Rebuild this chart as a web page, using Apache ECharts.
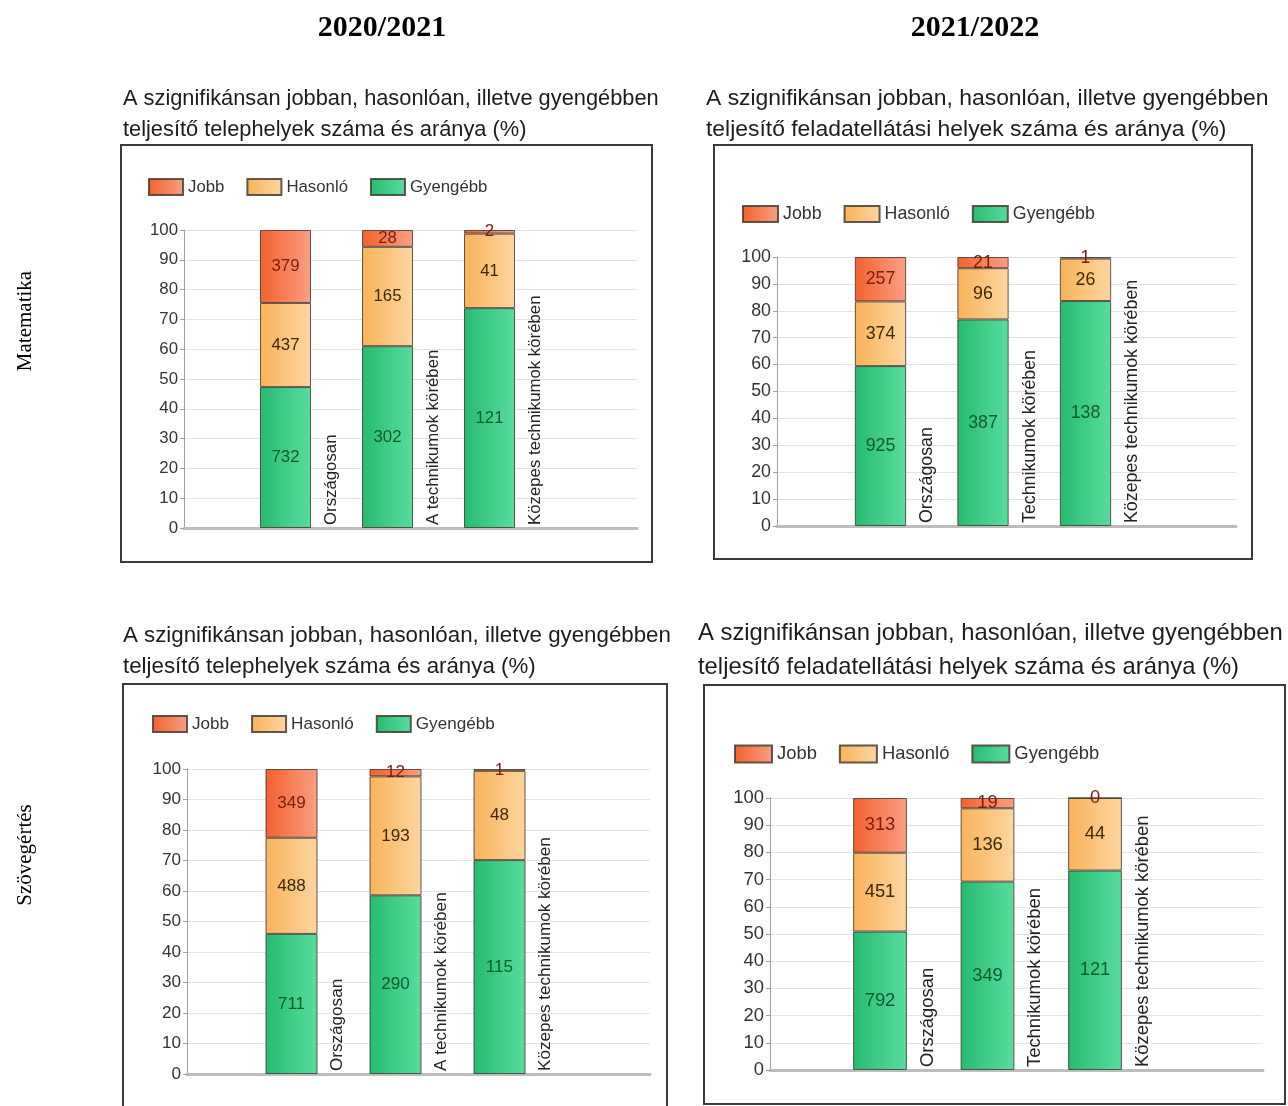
<!DOCTYPE html>
<html>
<head>
    <meta charset="utf-8">
    <title>Szignifikánsan jobban, hasonlóan, illetve gyengébben teljesítő helyek</title>
    <script src="https://cdn.jsdelivr.net/npm/echarts@6/dist/echarts.min.js"></script>
    <style>
        body { margin: 0; background: #fff; }
    </style>
</head>
<body>
    <div id="main" style="width: 1288px;height:1106px;"></div>

    <script type="text/javascript">
        // kategóriák
        var catsOld = ['Országosan', 'A technikumok körében', 'Közepes technikumok körében']
        var catsNew = ['Országosan', 'Technikumok körében', 'Közepes technikumok körében']
        var seriesNames = ['Jobb', 'Hasonló', 'Gyengébb']
        // alulról felfelé: Gyengébb, Hasonló, Jobb
        var stackOrder = [2, 1, 0]
        var yTicks = [0, 10, 20, 30, 40, 50, 60, 70, 80, 90, 100]

        // Matematika 2020/2021 (darabszám)
        var mat2021Jobb = [379, 28, 2]
        var mat2021Hasonlo = [437, 165, 41]
        var mat2021Gyengebb = [732, 302, 121]
        // Matematika 2021/2022
        var mat2122Jobb = [257, 21, 1]
        var mat2122Hasonlo = [374, 96, 26]
        var mat2122Gyengebb = [925, 387, 138]
        // Szövegértés 2020/2021
        var szov2021Jobb = [349, 12, 1]
        var szov2021Hasonlo = [488, 193, 48]
        var szov2021Gyengebb = [711, 290, 115]
        // Szövegértés 2021/2022
        var szov2122Jobb = [313, 19, 0]
        var szov2122Hasonlo = [451, 136, 44]
        var szov2122Gyengebb = [792, 349, 121]

        var captionOld = ['A szignifikánsan jobban, hasonlóan, illetve gyengébben', 'teljesítő telephelyek száma és aránya (%)']
        var captionNew = ['A szignifikánsan jobban, hasonlóan, illetve gyengébben', 'teljesítő feladatellátási helyek száma és aránya (%)']

        var sans = '"Liberation Sans", Arial, sans-serif'
        var serif = '"Liberation Serif", "Times New Roman", serif'

        var colors = {
            'Jobb': ['#f3612d', '#fa9f84', '#7a1c10'],
            'Hasonló': ['#f8b359', '#fdd6a0', '#3a2a06'],
            'Gyengébb': ['#26bb70', '#58dd9f', '#0c5a30']
        }

        var panels = [
            { cats: catsOld, cap: captionOld, data: [mat2021Jobb, mat2021Hasonlo, mat2021Gyengebb],
              box: [121, 145, 531, 417], capPos: [123, 99, 130], capFont: 21.8, font: 16.8,
              legend: [148, 186], item: [34, 16], bg: [184, 230, 453, 298], fg: [234.5, 306], pad: 37.5 },
            { cats: catsNew, cap: captionNew, data: [mat2122Jobb, mat2122Hasonlo, mat2122Gyengebb],
              box: [714, 145, 538, 414], capPos: [706, 99, 130], capFont: 22.9, font: 17.8,
              legend: [742, 213], item: [35, 16], bg: [777, 257, 459, 269], fg: [829.25, 307.5], pad: 38 },
            { cats: catsOld, cap: captionOld, data: [szov2021Jobb, szov2021Hasonlo, szov2021Gyengebb],
              box: [123, 684, 544, 440], capPos: [123, 636, 667], capFont: 22.3, font: 17.1,
              legend: [152, 723], item: [34, 16], bg: [187, 769, 463, 305], fg: [239.5, 312], pad: 37.5 },
            { cats: catsNew, cap: captionNew, data: [szov2122Jobb, szov2122Hasonlo, szov2122Gyengebb],
              box: [704, 685, 581, 419], capPos: [698, 633, 667], capFont: 23.8, font: 18.4,
              legend: [734, 753], item: [37, 17], bg: [770, 798, 493, 272], fg: [826.25, 322.5], pad: 38.5 }
        ]

        var grids = []
        var xAxes = []
        var yAxes = []
        var series = []
        var legends = []
        var graphics = []

        var gradient = function(name) {
            return new echarts.graphic.LinearGradient(0, 0, 1, 0, [
                { offset: 0, color: colors[name][0] },
                { offset: 1, color: colors[name][1] }
            ])
        }

        panels.forEach(function(p, i) {
            var bgIdx = i * 2
            var fgIdx = i * 2 + 1
            // összesen kategóriánként
            var totals = p.cats.map(function(c, k) {
                return p.data[0][k] + p.data[1][k] + p.data[2][k]
            })

            grids.push({ left: p.bg[0], top: p.bg[1], width: p.bg[2], height: p.bg[3] })
            grids.push({ left: p.fg[0], top: p.bg[1], width: p.fg[1], height: p.bg[3] })

            // háttér rács: y tengely + alapvonal
            xAxes.push({
                gridIndex: bgIdx, type: 'value', min: 0, max: 1,
                axisLine: { show: true, onZero: false, lineStyle: { color: '#bdbdbd', width: 3 } },
                axisTick: { show: false }, axisLabel: { show: false }, splitLine: { show: false }
            })
            yAxes.push({
                gridIndex: bgIdx, type: 'value', min: yTicks[0], max: yTicks[yTicks.length - 1], interval: 10,
                axisLine: { show: true, onZero: false, lineStyle: { color: '#a0a0a0' } },
                axisTick: { show: true, length: 4, lineStyle: { color: '#a0a0a0' } },
                axisLabel: { fontSize: p.font, fontFamily: sans, color: '#333', margin: 6 },
                splitLine: { lineStyle: { color: '#e3e3e3' } }
            })

            // oszlopok
            xAxes.push({
                gridIndex: fgIdx, type: 'category', data: p.cats,
                axisLine: { show: false }, axisTick: { show: false }, splitLine: { show: false },
                axisLabel: {
                    interval: 0, inside: true, rotate: 90, margin: 3,
                    align: 'left', verticalAlign: 'top', padding: [p.pad, 0, 0, 0],
                    fontSize: p.font, fontFamily: sans, color: '#222'
                }
            })
            yAxes.push({ gridIndex: fgIdx, type: 'value', min: 0, max: 100, show: false })

            stackOrder.forEach(function(s) {
                var name = seriesNames[s]
                var counts = p.data[s]
                series.push({
                    name: name,
                    type: 'bar',
                    stack: 'p' + i,
                    xAxisIndex: fgIdx,
                    yAxisIndex: fgIdx,
                    barWidth: '50%',
                    itemStyle: {
                        color: gradient(name),
                        borderColor: 'rgba(70,60,50,0.85)',
                        borderWidth: 1
                    },
                    label: {
                        show: true,
                        position: 'inside',
                        fontSize: p.font,
                        fontFamily: sans,
                        color: colors[name][2],
                        formatter: function(param) {
                            return counts[param.dataIndex]
                        }
                    },
                    data: counts.map(function(v, k) {
                        return v / totals[k] * 100
                    })
                })
            })

            legends.push({
                data: seriesNames,
                left: p.legend[0],
                top: p.legend[1] - p.item[1] / 2,
                padding: 0,
                itemWidth: p.item[0],
                itemHeight: p.item[1],
                itemGap: 22,
                icon: 'rect',
                textStyle: { fontSize: p.font, fontFamily: sans, color: '#333' }
            })

            graphics.push({
                type: 'rect',
                shape: { x: p.box[0], y: p.box[1], width: p.box[2], height: p.box[3] },
                style: { fill: 'none', stroke: '#3a3a3a', lineWidth: 2 },
                silent: true
            })
            graphics.push({
                type: 'text', x: p.capPos[0], y: p.capPos[1],
                style: { text: p.cap[0], fontSize: p.capFont, fontFamily: sans, fill: '#1c1c1c', verticalAlign: 'middle' }
            })
            graphics.push({
                type: 'text', x: p.capPos[0], y: p.capPos[2],
                style: { text: p.cap[1], fontSize: p.capFont, fontFamily: sans, fill: '#1c1c1c', verticalAlign: 'middle' }
            })
        })

        // fejlécek
        graphics.push({
            type: 'text', x: 382, y: 28,
            style: { text: '2020/2021', fontSize: 30, fontWeight: 'bold', fontFamily: serif, fill: '#000', align: 'center', verticalAlign: 'middle' }
        })
        graphics.push({
            type: 'text', x: 975, y: 28,
            style: { text: '2021/2022', fontSize: 30, fontWeight: 'bold', fontFamily: serif, fill: '#000', align: 'center', verticalAlign: 'middle' }
        })
        graphics.push({
            type: 'text', x: 25, y: 321, rotation: Math.PI / 2,
            style: { text: 'Matematika', fontSize: 21, fontFamily: serif, fill: '#000', align: 'center', verticalAlign: 'middle' }
        })
        graphics.push({
            type: 'text', x: 25, y: 855, rotation: Math.PI / 2,
            style: { text: 'Szövegértés', fontSize: 21, fontFamily: serif, fill: '#000', align: 'center', verticalAlign: 'middle' }
        })

        var myChart = echarts.init(document.getElementById('main'))
        var option = {
            animation: false,
            backgroundColor: '#fff',
            grid: grids,
            xAxis: xAxes,
            yAxis: yAxes,
            legend: legends,
            series: series,
            graphic: graphics
        }
        myChart.setOption(option)
    </script>
</body>
</html>
